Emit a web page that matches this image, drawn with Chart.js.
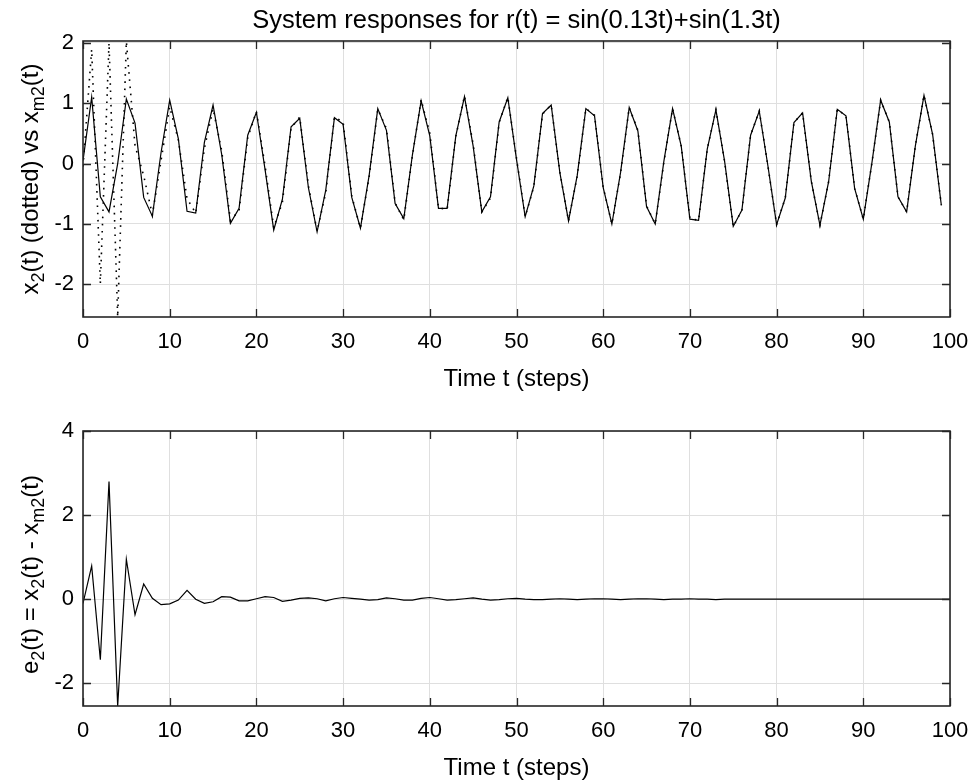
<!DOCTYPE html>
<html>
<head>
<meta charset="utf-8">
<script src="https://cdn.jsdelivr.net/npm/chart.js@4.4.1/dist/chart.umd.min.js"></script>
<style>
  html, body { margin: 0; padding: 0; background: #ffffff; }
  #wrap { position: relative; width: 975px; height: 783px; }
  canvas { position: absolute; left: 0; top: 0; }
</style>
</head>
<body>
<div id="wrap">
  <canvas id="top" width="975" height="783"></canvas>
  <canvas id="bottom" width="975" height="783"></canvas>
</div>
<script>
// ---------------- data (t = 0, 1, 2, ...) ----------------
const xm2Values = [
  0.05, 1.10, -0.55, -0.80, 0.00, 1.07, 0.67, -0.56, -0.87, 0.18,
  1.05, 0.41, -0.79, -0.82, 0.35, 0.97, 0.15, -0.99, -0.74, 0.47,
  0.85, -0.10, -1.10, -0.59, 0.61, 0.75, -0.40, -1.13, -0.44, 0.76,
  0.65, -0.56, -1.07, -0.20, 0.91, 0.55, -0.66, -0.91, 0.15, 1.04,
  0.46, -0.74, -0.74, 0.46, 1.11, 0.29, -0.80, -0.55, 0.69, 1.09,
  0.07, -0.88, -0.37, 0.83, 0.97, -0.15, -0.95, -0.20, 0.91, 0.79,
  -0.40, -1.00, -0.15, 0.93, 0.54, -0.71, -1.00, 0.04, 0.91, 0.29,
  -0.92, -0.94, 0.24, 0.89, 0.04, -1.04, -0.77, 0.47, 0.87, -0.04,
  -1.01, -0.57, 0.68, 0.84, -0.29, -1.02, -0.30, 0.90, 0.79, -0.41,
  -0.92, 0.02, 1.05, 0.69, -0.55, -0.80, 0.29, 1.13, 0.48, -0.69
];
const x2Values = [
  -0.05, 1.89, -1.99, 2.00, -2.54, 2.02, 0.30, -0.20, -0.85, 0.05,
  0.94, 0.39, -0.58, -0.82, 0.25, 0.91, 0.21, -0.94, -0.78, 0.43,
  0.86, -0.04, -1.06, -0.64, 0.59, 0.77, -0.37, -1.12, -0.48, 0.77,
  0.69, -0.54, -1.07, -0.22, 0.90, 0.58, -0.65, -0.93, 0.13, 1.06,
  0.50, -0.73, -0.76, 0.45, 1.12, 0.32, -0.80, -0.57, 0.68, 1.10,
  0.09, -0.88, -0.38, 0.82, 0.97, -0.14, -0.95, -0.21, 0.91, 0.80,
  -0.39, -1.00, -0.16, 0.93, 0.55, -0.70, -1.00, 0.03, 0.91, 0.29,
  -0.91, -0.94, 0.24, 0.89, 0.04, -1.04, -0.77, 0.47, 0.87, -0.04,
  -1.01, -0.57, 0.68, 0.84, -0.29, -1.02, -0.30, 0.90, 0.79, -0.41,
  -0.92, 0.02, 1.05, 0.69, -0.55, -0.80, 0.29, 1.13, 0.48, -0.69
];
const e2Values = [
  -0.10, 0.79, -1.44, 2.80, -2.54, 0.95, -0.37, 0.36, 0.02, -0.13,
  -0.11, -0.02, 0.21, 0.00, -0.10, -0.06, 0.06, 0.05, -0.04, -0.04,
  0.01, 0.06, 0.04, -0.05, -0.02, 0.02, 0.03, 0.01, -0.04, 0.01,
  0.04, 0.02, 0.00, -0.02, -0.01, 0.03, 0.01, -0.02, -0.02, 0.02,
  0.04, 0.01, -0.02, -0.01, 0.01, 0.03, 0.00, -0.02, -0.01, 0.01,
  0.02, 0.00, -0.01, -0.01, 0.00, 0.01, 0.00, -0.01, 0.00, 0.01,
  0.01, 0.00, -0.01, 0.00, 0.01, 0.01, 0.00, -0.01, 0.00, 0.00,
  0.01, 0.00, 0.00, -0.01, 0.00, 0.00, 0.00, 0.00, 0.00, 0.00,
  0.00, 0.00, 0.00, 0.00, 0.00, 0.00, 0.00, 0.00, 0.00, 0.00,
  0.00, 0.00, 0.00, 0.00, 0.00, 0.00, 0.00, 0.00, 0.00, 0.00, 0.00
];
const xTicks = [0, 10, 20, 30, 40, 50, 60, 70, 80, 90, 100];
const yTicksTop = [-2, -1, 0, 1, 2];
const yTicksBottom = [-2, 0, 2, 4];

const titleText = 'System responses for r(t) = sin(0.13t)+sin(1.3t)';
const xTitleText = 'Time t (steps)';
// rich text parts: [text, isSubscript]
const yTitleTop = [['x', 0], ['2', 1], ['(t) (dotted) vs x', 0], ['m2', 1], ['(t)', 0]];
const yTitleBottom = [['e', 0], ['2', 1], ['(t) = x', 0], ['2', 1], ['(t) - x', 0], ['m2', 1], ['(t)', 0]];

// ---------------- styling ----------------
const FONT = '"Liberation Sans", Arial, Helvetica, sans-serif';
const AXIS_COLOR = '#262626';
const GRID_COLOR = '#dfdfdf';
const TICK_SIZE = 22;
const LABEL_SIZE = 24;
const TITLE_SIZE = 25.5;

function drawRich(ctx, parts, cx, cy, size, rotate) {
  ctx.save();
  ctx.translate(cx, cy);
  if (rotate) ctx.rotate(-Math.PI / 2);
  ctx.fillStyle = '#000';
  ctx.textBaseline = 'alphabetic';
  ctx.textAlign = 'left';
  let total = 0;
  const widths = parts.map(p => {
    ctx.font = (p[1] ? size * 0.75 : size) + 'px ' + FONT;
    const w = ctx.measureText(p[0]).width;
    total += w;
    return w;
  });
  let x = -total / 2;
  const base = size * 0.33;
  parts.forEach((p, i) => {
    ctx.font = (p[1] ? size * 0.75 : size) + 'px ' + FONT;
    ctx.fillText(p[0], x, p[1] ? base + size * 0.26 : base);
    x += widths[i];
  });
  ctx.restore();
}

function makeFramePlugin(opts) {
  return {
    id: 'frame' + opts.name,
    afterDraw(chart) {
      const ctx = chart.ctx;
      const a = chart.chartArea;
      const xs = chart.scales.x, ys = chart.scales.y;
      ctx.save();
      ctx.strokeStyle = AXIS_COLOR;
      ctx.lineWidth = 1.3;
      // inward tick marks on all four sides
      const tl = 8;
      ctx.beginPath();
      xTicks.forEach(v => {
        const px = Math.round(xs.getPixelForValue(v)) + 0.5;
        ctx.moveTo(px, a.bottom); ctx.lineTo(px, a.bottom - tl);
        ctx.moveTo(px, a.top); ctx.lineTo(px, a.top + tl);
      });
      opts.yTicks.forEach(v => {
        const py = Math.round(ys.getPixelForValue(v)) + 0.5;
        ctx.moveTo(a.left, py); ctx.lineTo(a.left + tl, py);
        ctx.moveTo(a.right, py); ctx.lineTo(a.right - tl, py);
      });
      ctx.stroke();
      ctx.lineWidth = 1.6;
      ctx.strokeRect(a.left, a.top, a.right - a.left, a.bottom - a.top);
      ctx.restore();
      // titles
      const cxm = (a.left + a.right) / 2;
      if (opts.title) {
        ctx.save();
        ctx.fillStyle = '#000';
        ctx.font = TITLE_SIZE + 'px ' + FONT;
        ctx.textAlign = 'center';
        ctx.textBaseline = 'middle';
        ctx.fillText(opts.title, cxm, a.top - 20);
        ctx.restore();
      }
      ctx.save();
      ctx.fillStyle = '#000';
      ctx.font = LABEL_SIZE + 'px ' + FONT;
      ctx.textAlign = 'center';
      ctx.textBaseline = 'middle';
      ctx.fillText(xTitleText, cxm, a.bottom + 62);
      ctx.restore();
      drawRich(ctx, opts.yTitle, 30, (a.top + a.bottom) / 2 + (opts.yTitleShift || 0), LABEL_SIZE, true);
    }
  };
}

function baseOptions(ymin, ymax, yTicks, padTop, padBottom) {
  return {
    responsive: false,
    animation: false,
    events: [],
    layout: { padding: { left: 0, right: 25, top: padTop, bottom: padBottom } },
    plugins: { legend: { display: false }, tooltip: { enabled: false }, title: { display: false } },
    elements: { point: { radius: 0 }, line: { tension: 0 } },
    scales: {
      x: {
        type: 'linear', min: 0, max: 100,
        afterBuildTicks: s => { s.ticks = xTicks.map(v => ({ value: v })); },
        afterFit: s => { s.height = 40; s.paddingLeft = 0; s.paddingRight = 0; },
        grid: { color: GRID_COLOR, lineWidth: 1, drawTicks: false },
        border: { display: false },
        ticks: { color: '#000', font: { family: FONT, size: TICK_SIZE }, padding: 12, maxRotation: 0, autoSkip: false }
      },
      y: {
        type: 'linear', min: ymin, max: ymax,
        afterBuildTicks: s => { s.ticks = yTicks.map(v => ({ value: v })); },
        afterFit: s => { s.width = 83; s.paddingTop = 0; s.paddingBottom = 0; },
        grid: { color: GRID_COLOR, lineWidth: 1, drawTicks: false },
        border: { display: false },
        ticks: { color: '#000', font: { family: FONT, size: TICK_SIZE }, padding: 9, autoSkip: false }
      }
    }
  };
}

const lineTop = xm2Values.map((v, i) => ({ x: i, y: v }));
const dotTop = x2Values.map((v, i) => ({ x: i, y: v }));
const lineBottom = e2Values.map((v, i) => ({ x: i, y: v }));

new Chart(document.getElementById('top'), {
  type: 'line',
  data: {
    datasets: [
      { data: dotTop, borderColor: '#000', borderWidth: 1.6, borderDash: [1.6, 5.6], fill: false, clip: 0 },
      { data: lineTop, borderColor: '#000', borderWidth: 1.2, fill: false, clip: 0 }
    ]
  },
  options: baseOptions(-2.54, 2.03, yTicksTop, 41, 783 - 317 - 40),
  plugins: [makeFramePlugin({ name: 'top', yTicks: yTicksTop, title: titleText, yTitle: yTitleTop })]
});

new Chart(document.getElementById('bottom'), {
  type: 'line',
  data: {
    datasets: [
      { data: lineBottom, borderColor: '#000', borderWidth: 1.2, fill: false, clip: 0 }
    ]
  },
  options: baseOptions(-2.54, 4, yTicksBottom, 431, 783 - 706 - 40),
  plugins: [makeFramePlugin({ name: 'bottom', yTicks: yTicksBottom, title: null, yTitle: yTitleBottom, yTitleShift: 6 })]
});
</script>
</body>
</html>
